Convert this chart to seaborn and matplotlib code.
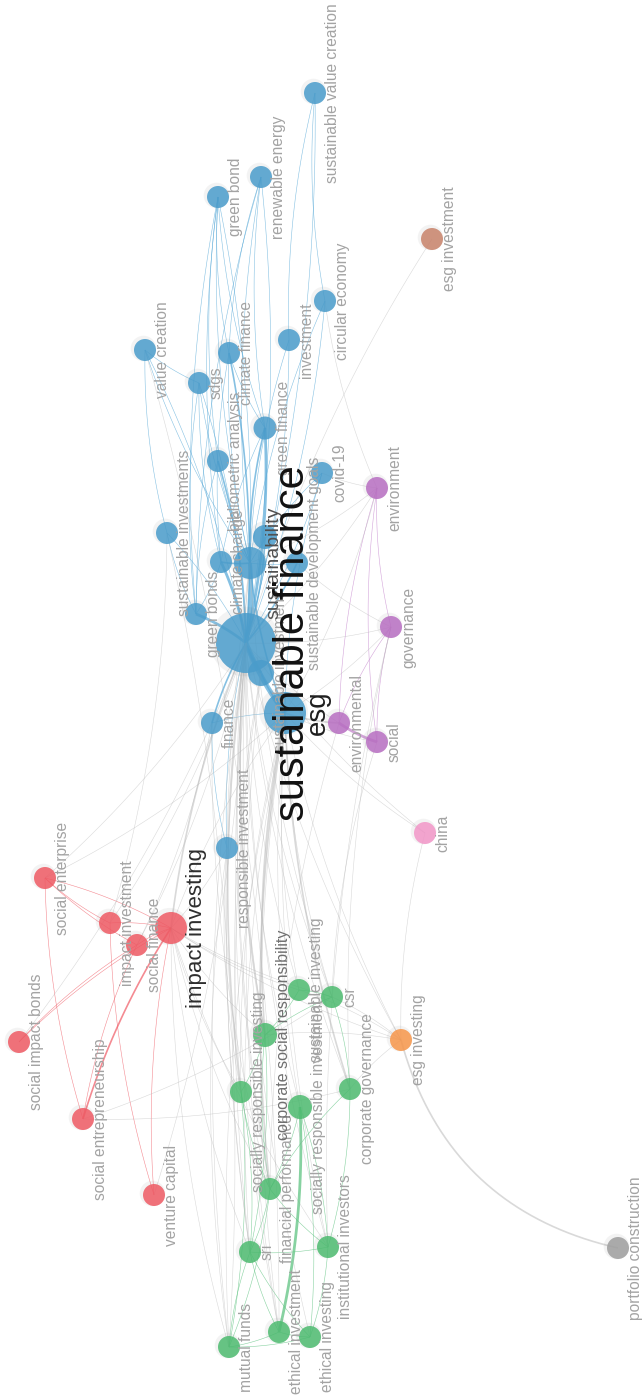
import numpy as np
import pandas as pd
import matplotlib.pyplot as plt
from matplotlib.collections import LineCollection
import seaborn as sns

# Keyword co-occurrence network (layout coordinates, pixel units)
labels = [
    "sustainable value creation", "renewable energy", "green bond", "esg investment",
    "circular economy", "investment", "value creation", "climate finance", "sdgs",
    "green finance", "bibliometric analysis", "covid-19", "environment",
    "sustainable investments", "climate change", "sustainability", "",
    "sustainable development goals", "green bonds", "governance", "sustainable finance",
    "sustainable investment", "esg", "finance", "environmental", "social",
    "responsible investment", "china", "social enterprise", "impact investment",
    "social finance", "impact investing", "social impact bonds", "social entrepreneurship",
    "venture capital", "sustainable investing", "csr", "corporate social responsibility",
    "esg investing", "corporate governance", "socially responsible investing",
    "socially responsible investment", "financial performance", "sri",
    "institutional investors", "ethical investment", "ethical investing", "mutual funds",
    "portfolio construction",
]
node_x = [315, 261, 218, 432, 325, 289, 145, 229, 199, 265, 218, 322, 377, 167, 221, 250, 265,
          297, 196, 391, 246, 261, 285, 212, 339, 377, 227, 425, 45, 110, 137, 171, 19, 83,
          154, 299, 332, 265, 401, 350, 241, 300, 270, 250, 328, 279, 310, 229, 618]
node_y = [93, 177, 197, 239, 301, 340, 350, 353, 383, 428, 461, 473, 488, 533, 562, 563, 537,
          563, 614, 627, 643, 673, 713, 723, 723, 742, 848, 833, 878, 923, 945, 928, 1042, 1119,
          1195, 990, 997, 1035, 1040, 1089, 1092, 1107, 1189, 1252, 1247, 1332, 1337, 1347, 1248]
node_r = [11, 11, 11, 11, 11, 11, 11, 11, 11, 11.5, 11, 11, 11, 11, 11, 16, 12,
          11, 11, 11, 30, 13, 21, 11, 11, 11, 11, 11, 11, 11, 11, 16, 11, 11,
          11, 11, 11, 12, 11, 11, 11, 12, 11, 11, 11, 11, 11, 11, 11]
cluster = (["blue"] * 3 + ["brown"] + ["blue"] * 8 + ["purple"] + ["blue"] * 6 + ["purple"]
           + ["blue"] * 4 + ["purple"] * 2 + ["blue", "pink"] + ["red"] * 7
           + ["green"] * 3 + ["orange"] + ["green"] * 9 + ["grey"])

sf = "sustainable finance"
sd = ""  # unlabelled node hidden under the big label
edges = [
    # blue cluster
    (sf, "green bond", 1), (sf, "renewable energy", 1), (sf, "sustainable value creation", 1),
    (sf, "circular economy", 1), (sf, "investment", 1), (sf, "value creation", 1),
    (sf, "climate finance", 2), (sf, "sdgs", 1), (sf, "green finance", 3),
    (sf, "bibliometric analysis", 2), (sf, "covid-19", 1), (sf, "sustainable investments", 1),
    (sf, "green bonds", 3), (sf, "climate change", 3), (sf, "sustainability", 4), (sf, "esg", 5),
    (sf, "finance", 2), (sf, "responsible investment", 1), (sf, "sustainable development goals", 2),
    (sf, sd, 2), (sf, "sustainable investment", 3),
    ("green bond", "green finance", 1), ("green bond", "climate finance", 1),
    ("green bond", "climate change", 1), ("green bond", "green bonds", 1),
    ("green bond", "sustainability", 1), ("green bond", "bibliometric analysis", 1),
    ("renewable energy", "green finance", 1), ("renewable energy", "climate finance", 1),
    ("renewable energy", "sustainability", 1), ("renewable energy", "green bonds", 1),
    ("sustainable value creation", "circular economy", 1),
    ("sustainable value creation", "investment", 1),
    ("circular economy", "sustainability", 1), ("value creation", "sdgs", 1),
    ("value creation", "sustainability", 1), ("value creation", "sustainable investments", 1),
    ("sdgs", "green bonds", 1), ("sdgs", "climate change", 1), ("sdgs", "sustainability", 1),
    ("climate finance", "climate change", 1), ("climate finance", "green finance", 1),
    ("climate finance", "sustainability", 1), ("investment", "sustainability", 1),
    ("green finance", "sustainability", 2), ("green finance", "climate change", 1),
    ("bibliometric analysis", "green bonds", 1), ("bibliometric analysis", "sustainability", 1),
    ("covid-19", "sustainability", 1), ("covid-19", "esg", 1),
    ("sustainable investments", "green bonds", 1), ("green bonds", "climate change", 1),
    ("climate change", "sustainability", 2), ("sustainability", "esg", 2),
    ("sustainability", "sustainable development goals", 1), ("esg", "finance", 1),
    ("finance", "responsible investment", 1), ("sustainable investment", "esg", 2),
    # purple cluster
    ("environment", "governance", 1), ("environment", "social", 1),
    ("environment", "environmental", 1), ("governance", "social", 1),
    ("governance", "environmental", 1), ("environmental", "social", 3),
    ("esg", "environment", 1), ("esg", "governance", 1), ("esg", "environmental", 2),
    ("esg", "social", 1), (sf, "environment", 1), (sf, "governance", 1), (sf, "environmental", 1),
    ("sustainability", "environment", 1), ("covid-19", "environment", 1),
    ("sustainable development goals", "governance", 1), ("circular economy", "environment", 1),
    ("esg", "china", 1), (sf, "china", 1), ("china", "esg investing", 1),
    ("esg investment", sf, 1),
    # red cluster
    ("impact investing", "social enterprise", 1), ("impact investing", "impact investment", 1),
    ("impact investing", "social finance", 1), ("impact investing", "social impact bonds", 1),
    ("impact investing", "social entrepreneurship", 2), ("impact investing", "venture capital", 1),
    ("social enterprise", "impact investment", 1), ("social enterprise", "social finance", 1),
    ("social enterprise", "social entrepreneurship", 1), ("social finance", "social impact bonds", 1),
    ("impact investment", "venture capital", 1), ("social finance", "social entrepreneurship", 1),
    (sf, "impact investing", 2), ("esg", "impact investing", 1),
    ("impact investing", "responsible investment", 1), ("impact investing", "csr", 1),
    ("impact investing", "sustainable investing", 1),
    ("impact investing", "corporate social responsibility", 1),
    ("impact investing", "socially responsible investing", 1), ("impact investing", "esg investing", 1),
    ("impact investing", "financial performance", 1), ("impact investing", "sri", 1),
    ("impact investing", "mutual funds", 1), ("impact investing", "institutional investors", 1),
    ("social entrepreneurship", "corporate governance", 1), ("social entrepreneurship", "csr", 1),
    ("social enterprise", sf, 1), ("impact investment", sf, 1), ("social finance", sf, 1),
    ("venture capital", sf, 1), ("social impact bonds", sf, 1), ("social enterprise", "esg", 1),
    ("impact investment", "sustainable investments", 1), ("social finance", "finance", 1),
    # green cluster
    ("sri", "mutual funds", 1), ("sri", "ethical investment", 1), ("sri", "ethical investing", 1),
    ("sri", "institutional investors", 1), ("sri", "socially responsible investing", 1),
    ("sri", "financial performance", 1), ("sri", "corporate social responsibility", 1),
    ("mutual funds", "ethical investment", 1), ("mutual funds", "ethical investing", 1),
    ("mutual funds", "socially responsible investing", 1), ("mutual funds", "financial performance", 1),
    ("ethical investment", "socially responsible investment", 3),
    ("ethical investment", "ethical investing", 1),
    ("ethical investing", "socially responsible investment", 1),
    ("ethical investing", "institutional investors", 1),
    ("institutional investors", "corporate governance", 1),
    ("institutional investors", "socially responsible investment", 1),
    ("corporate governance", "csr", 1), ("csr", "corporate social responsibility", 1),
    ("csr", "sustainable investing", 1),
    ("corporate social responsibility", "financial performance", 1),
    ("corporate social responsibility", "sustainable investing", 1),
    ("socially responsible investing", "financial performance", 1),
    ("socially responsible investing", "corporate social responsibility", 1),
    ("financial performance", "socially responsible investment", 1),
    ("financial performance", "institutional investors", 1),
    ("corporate governance", "financial performance", 1),
    (sf, "sri", 1), (sf, "mutual funds", 1), (sf, "ethical investment", 1), (sf, "ethical investing", 1),
    (sf, "institutional investors", 1), (sf, "socially responsible investing", 2),
    (sf, "financial performance", 1), (sf, "corporate social responsibility", 2), (sf, "csr", 1),
    (sf, "sustainable investing", 1), (sf, "socially responsible investment", 1),
    (sf, "corporate governance", 1), (sf, "esg investing", 1),
    ("esg", "sri", 1), ("esg", "mutual funds", 1), ("esg", "ethical investment", 1),
    ("esg", "institutional investors", 1), ("esg", "socially responsible investing", 1),
    ("esg", "financial performance", 2), ("esg", "corporate social responsibility", 2),
    ("esg", "csr", 1), ("esg", "sustainable investing", 1), ("esg", "socially responsible investment", 1),
    ("esg", "corporate governance", 2), ("esg", "esg investing", 1),
    ("sustainability", "corporate social responsibility", 1), ("sustainability", "csr", 1),
    ("sustainability", "financial performance", 1), ("sustainability", "sri", 1),
    ("sustainable investment", "socially responsible investing", 1),
    ("sustainable investment", "sri", 1), ("sustainable investment", "ethical investment", 1),
    ("responsible investment", "socially responsible investing", 1),
    ("responsible investment", "mutual funds", 1), ("finance", "financial performance", 1),
    ("esg investing", "csr", 1), ("esg investing", "corporate governance", 1),
    ("esg investing", "corporate social responsibility", 1), ("esg investing", "sustainable investing", 1),
    ("esg investing", "portfolio construction", 2),
    ("mutual funds", "sustainable investments", 1), ("ethical investment", "value creation", 1),
    ("governance", "corporate governance", 1), ("social", "csr", 1),
    ("environmental", "financial performance", 1), ("governance", "institutional investors", 1),
]
edge_bend = {("esg investing", "portfolio construction"): 0.3}

palette = {"blue": "#4a9ccb", "red": "#ef5a64", "green": "#4dbb70", "purple": "#b86ec2",
           "pink": "#f296c8", "orange": "#f7964a", "brown": "#c8826a", "grey": "#9e9e9e"}
edge_palette = {"blue": "#5aaad8", "red": "#f0606a", "green": "#5cc27f", "purple": "#c484cc"}

sns.set_style("white")
plt.rcParams["font.family"] = ["Liberation Sans", "DejaVu Sans"]

nodes = pd.DataFrame({"label": labels, "x": node_x, "y": node_y, "r": node_r, "cluster": cluster})
nodes["s"] = (2 * nodes["r"] * 0.72) ** 2
pos = nodes.set_index("label")

fig = plt.figure(figsize=(6.42, 13.98), dpi=100)
ax = fig.add_axes([0, 0, 1, 1])

# edges as quadratic curves
t = np.linspace(0, 1, 40)[:, None]
segs, cols, widths = [], [], []
for a, b, w in edges:
    p0 = pos.loc[a, ["x", "y"]].to_numpy(float)
    p2 = pos.loc[b, ["x", "y"]].to_numpy(float)
    d = p2 - p0
    bend = edge_bend.get((a, b), 0.07)
    ctrl = (p0 + p2) / 2 + bend * np.array([-d[1], d[0]])
    curve = (1 - t) ** 2 * p0 + 2 * (1 - t) * t * ctrl + t ** 2 * p2
    segs.append(curve)
    ca, cb = pos.loc[a, "cluster"], pos.loc[b, "cluster"]
    if ca == cb and ca in edge_palette:
        cols.append(edge_palette[ca] + "bb")
    else:
        cols.append("#b8b8b888")
    widths.append(0.4 + 0.8 * (w - 1))
ax.add_collection(LineCollection(segs, colors=cols, linewidths=widths, zorder=1))

# soft shadow behind nodes
shadow = nodes.assign(x=nodes["x"] - 1.5, y=nodes["y"] - 1.5, s=nodes["s"] * 1.35)
sns.scatterplot(data=shadow, x="x", y="y", s=shadow["s"], color="#606060", alpha=0.07,
                linewidth=0, legend=False, ax=ax, zorder=2)

# nodes
smin, smax = nodes["s"].min(), nodes["s"].max()
sns.scatterplot(data=nodes, x="x", y="y", hue="cluster", palette=palette, size="s",
                sizes=(smin, smax), size_norm=(smin, smax), alpha=0.85, linewidth=0,
                legend=False, ax=ax, zorder=3)

# labels
styles = {"sustainable finance": (30, "#111111"), "esg": (20, "#1e1e1e"),
          "impact investing": (16, "#2e2e2e"), "sustainability": (14, "#505050"),
          "corporate social responsibility": (11.5, "#6f6f6f")}
for row in nodes.itertuples():
    if not row.label:
        continue
    fs, col = styles.get(row.label, (11.2, "#a3a3a3"))
    off = row.r + 0.42 * fs / 0.72
    ax.text(row.x + off, row.y, row.label, rotation=90, ha="center", va="center",
            fontsize=fs, color=col, zorder=5 if row.label in styles else 4)

ax.set_xlim(0, 642)
ax.set_ylim(1398, 0)
ax.set_axis_off()
fig.savefig("out.png", dpi=100, facecolor="white")
